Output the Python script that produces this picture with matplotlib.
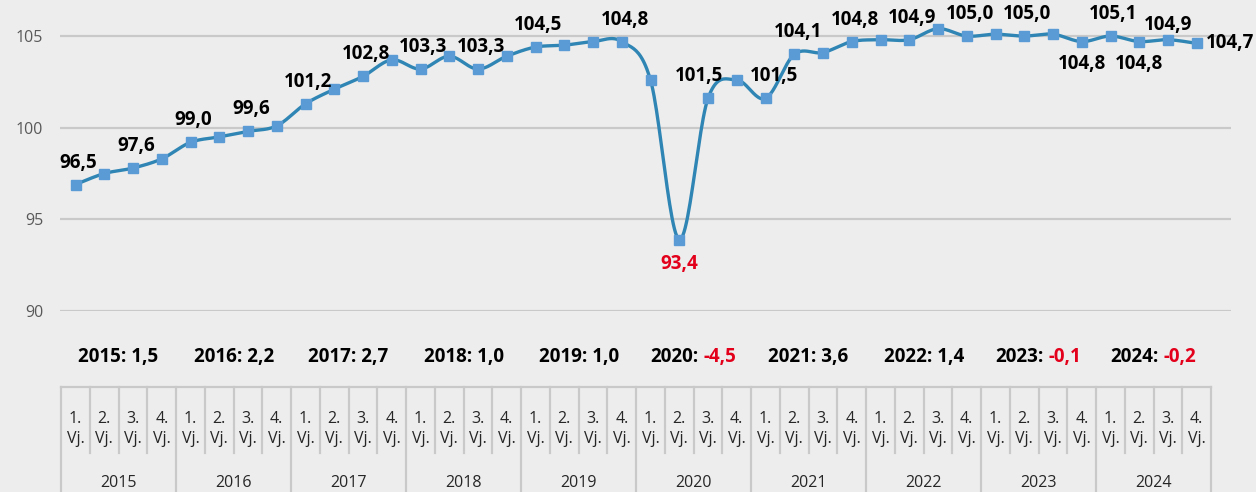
import numpy as np
import matplotlib
matplotlib.use("Agg")
import matplotlib.pyplot as plt
from matplotlib.transforms import blended_transform_factory
from matplotlib import font_manager as fm

# ---------------- data ----------------
years = [2015, 2016, 2017, 2018, 2019, 2020, 2021, 2022, 2023, 2024]
quarter_labels = ["1.\nVj.", "2.\nVj.", "3.\nVj.", "4.\nVj."]
values = [96.9, 97.5, 97.8, 98.3, 99.2, 99.5, 99.8, 100.1,
          101.3, 102.1, 102.8, 103.7, 103.2, 103.9, 103.2, 103.9,
          104.4, 104.5, 104.7, 104.7, 102.6, 93.9, 101.6, 102.6,
          101.6, 104.0, 104.1, 104.7, 104.8, 104.8, 105.4, 105.0,
          105.1, 105.0, 105.1, 104.7, 105.0, 104.7, 104.8, 104.6]
label_idx = [0, 2, 4, 6, 8, 10, 12, 14, 16, 19, 21, 22, 24, 25, 27, 29,
             31, 33, 35, 36, 37, 38, 39]
label_text = ["96,5", "97,6", "99,0", "99,6", "101,2", "102,8", "103,3",
              "103,3", "104,5", "104,8", "93,4", "101,5", "101,5", "104,1",
              "104,8", "104,9", "105,0", "105,0", "104,8", "105,1", "104,8",
              "104,9", "104,7"]
annual_growth = ["1,5", "2,2", "2,7", "1,0", "1,0", "-4,5", "3,6", "1,4",
                 "-0,1", "-0,2"]
yticks = [90, 95, 100, 105]

# ---------------- style ----------------
W, H = 1256, 492
BG = "#ededed"
GRID = "#c9c9c9"
LINE = "#2f85b4"
MARK = "#5b9bd5"
RED = "#e3001b"
AX_FONT = ["Open Sans", "DejaVu Sans"]


def pick_bold_family():
    for fam in ["Open Sans", "Noto Sans", "Lato", "Roboto", "Liberation Sans"]:
        for f in fm.fontManager.ttflist:
            if f.name == fam and (f.weight in ("bold", 700) or
                                  (isinstance(f.weight, int) and f.weight >= 700)):
                if f.style == "normal":
                    return [fam, "DejaVu Sans"]
    return ["DejaVu Sans"]


LBL_FONT = pick_bold_family()

px_per_idx = 28.75
x0_px = 75.5           # pixel x of first category
px_per_unit = 18.33
ax_left_px, ax_right_px = 60, 1231
ax_top_px, ax_bot_px = 0, 311

fig = plt.figure(figsize=(W / 100, H / 100), dpi=100, facecolor=BG)
ax = fig.add_axes([ax_left_px / W, 1 - ax_bot_px / H,
                   (ax_right_px - ax_left_px) / W, (ax_bot_px - ax_top_px) / H])
ax.set_facecolor(BG)
ax.set_xlim((ax_left_px - x0_px) / px_per_idx, (ax_right_px - x0_px) / px_per_idx)
ax.set_ylim(90, 90 + (ax_bot_px - ax_top_px) / px_per_unit)
for s in ax.spines.values():
    s.set_visible(False)
ax.set_xticks([])
ax.set_yticks(yticks)
ax.set_yticklabels([str(v) for v in yticks], fontfamily=AX_FONT, fontsize=11.5,
                   color="#595959")
ax.tick_params(axis="y", length=0, pad=12)
for v in yticks:
    ax.axhline(v, color=GRID, lw=1.6, zorder=1)

# ---------------- smoothed line (Catmull-Rom, like Excel smoothing) ----------------
xi = np.arange(len(values), dtype=float)
P = np.column_stack([xi * px_per_idx, np.array(values) * px_per_unit])
Pp = np.vstack([P[0], P, P[-1]])
curve = []
for k in range(len(P) - 1):
    p0, p1, p2, p3 = Pp[k], Pp[k + 1], Pp[k + 2], Pp[k + 3]
    c1 = p1 + (p2 - p0) / 6
    c2 = p2 - (p3 - p1) / 6
    t = np.linspace(0, 1, 25)[:, None]
    seg = ((1 - t) ** 3) * p1 + 3 * ((1 - t) ** 2) * t * c1 + 3 * (1 - t) * t ** 2 * c2 + t ** 3 * p2
    curve.append(seg if k == 0 else seg[1:])
curve = np.vstack(curve)
ax.plot(curve[:, 0] / px_per_idx, curve[:, 1] / px_per_unit, color=LINE, lw=2.4,
        zorder=3, solid_capstyle="round")
ax.plot(xi, values, ls="none", marker="s", ms=6.8, color=MARK, mec=MARK, zorder=4)

# ---------------- data labels ----------------
placement = {21: (0, -24, "center"), 22: (-9, 22, "center"), 24: (9, 22, "center"),
             25: (4, 22, "center"), 35: (0, -22, "center"), 37: (0, -22, "center"),
             38: (0, 15, "center"), 39: (9, 0, "left")}
for i, txt in zip(label_idx, label_text):
    dx, dy, ha = placement.get(i, (3, 22, "center"))
    col = RED if i == 21 else "black"
    ax.annotate(txt, (i, values[i]), xytext=(dx, dy), textcoords="offset pixels",
                ha=ha, va="center", fontsize=13.5, fontweight="bold",
                fontfamily=LBL_FONT, color=col, zorder=5, annotation_clip=False)

# ---------------- category box below ----------------
tb = blended_transform_factory(ax.transData, fig.transFigure)


def fy(px):
    return 1 - px / H


box_top, q_bot, y_bot = 387, 453, 492
n = len(values)
ax.plot([-0.5, n - 0.5], [fy(box_top)] * 2, transform=tb, color=GRID, lw=1.6,
        clip_on=False)
for k in range(n + 1):
    xb = k - 0.5
    yb = y_bot if k % 4 == 0 else q_bot
    ax.plot([xb, xb], [fy(box_top), fy(yb)], transform=tb, color=GRID, lw=1.6,
            clip_on=False)
for k in range(n):
    ax.text(k, fy(429), quarter_labels[k % 4], transform=tb, ha="center", va="center",
            fontsize=11.5, fontfamily=AX_FONT, color="#262626", linespacing=1.4,
            clip_on=False)
for j, yr in enumerate(years):
    ax.text(4 * j + 1.5, fy(483), str(yr), transform=tb, ha="center", va="center",
            fontsize=11.5, fontfamily=AX_FONT, color="#262626", clip_on=False)

# ---------------- annual growth row ----------------
for j, (yr, g) in enumerate(zip(years, annual_growth)):
    xc = 4 * j + 1.5
    kw = dict(fontsize=13.5, fontweight="bold", fontfamily=LBL_FONT)
    full = ax.text(xc, fy(357), f"{yr}: {g}", transform=tb, ha="center", va="center",
                   color="black", clip_on=False, **kw)
    if g.startswith("-"):
        full.set_alpha(0)
        ax.annotate(f"{yr}:", xy=(0, 0), xycoords=full, ha="left", va="bottom",
                    color="black", annotation_clip=False, **kw)
        ax.annotate(g, xy=(1, 0), xycoords=full, ha="right", va="bottom",
                    color=RED, annotation_clip=False, **kw)

fig.savefig("out.png", dpi=100, facecolor=BG)
